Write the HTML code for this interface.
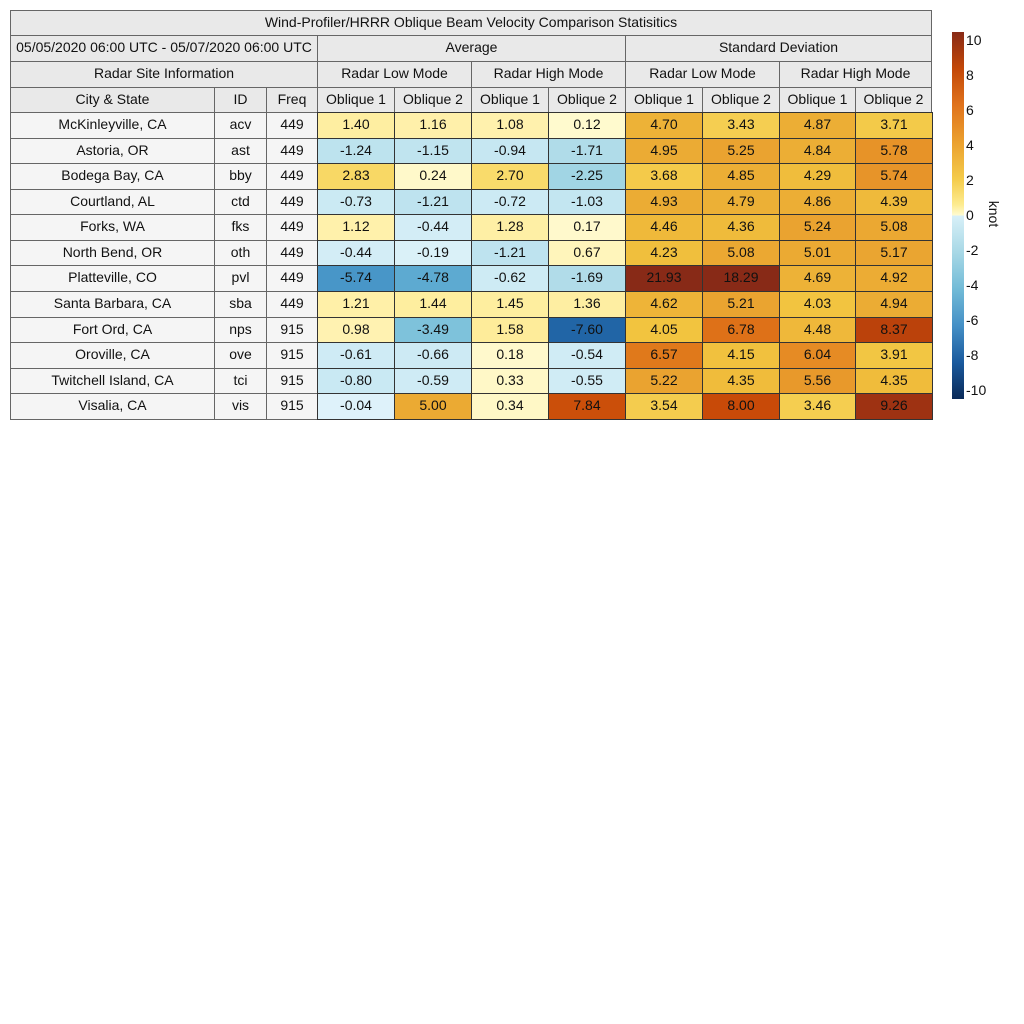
<!DOCTYPE html>
<html><head><meta charset="utf-8">
<style>
body{margin:0;width:1024px;height:1024px;background:#fff;position:relative;overflow:hidden;font-family:"Liberation Sans",sans-serif;font-size:14px;color:#111}
.c{position:absolute;box-sizing:border-box;border:1px solid #666;display:flex;align-items:center;justify-content:center;padding-bottom:3px;white-space:nowrap}
.h{background:#e9e9e9}
.d{background:#f5f5f5}
.v{border-color:#333}
.t{position:absolute;font-size:14px;left:966px}
</style></head><body>
<div id="tb"></div>
<div style="position:absolute;left:952px;top:32px;width:12px;height:367px;background:linear-gradient(to bottom,#882a17 0%,#c34808 10%,#e0731c 20%,#eba02e 30%,#f4cb4a 40%,#fdeb8f 47%,#fffbd2 50%,#d8f0f8 50.01%,#a8d8e6 60%,#72bbd7 70%,#4590c6 80%,#1a5a9e 90%,#0a2a58 100%)"></div>
<div class="t" style="top:32px">10</div>
<div class="t" style="top:67px">8</div>
<div class="t" style="top:102px">6</div>
<div class="t" style="top:137px">4</div>
<div class="t" style="top:172px">2</div>
<div class="t" style="top:207px">0</div>
<div class="t" style="top:242px">-2</div>
<div class="t" style="top:277px">-4</div>
<div class="t" style="top:312px">-6</div>
<div class="t" style="top:347px">-8</div>
<div class="t" style="top:382px">-10</div>
<div style="position:absolute;left:981px;top:206px;transform:rotate(90deg);font-size:14px">knot</div>

<div class="c h" style="left:10px;top:10px;width:922px;height:26px">Wind-Profiler/HRRR Oblique Beam Velocity Comparison Statisitics</div>
<div class="c h" style="left:10px;top:35px;width:308px;height:27px">05/05/2020 06:00 UTC - 05/07/2020 06:00 UTC</div>
<div class="c h" style="left:317px;top:35px;width:309px;height:27px">Average</div>
<div class="c h" style="left:625px;top:35px;width:307px;height:27px">Standard Deviation</div>
<div class="c h" style="left:10px;top:61px;width:308px;height:27px">Radar Site Information</div>
<div class="c h" style="left:317px;top:61px;width:155px;height:27px">Radar Low Mode</div>
<div class="c h" style="left:471px;top:61px;width:155px;height:27px">Radar High Mode</div>
<div class="c h" style="left:625px;top:61px;width:155px;height:27px">Radar Low Mode</div>
<div class="c h" style="left:779px;top:61px;width:153px;height:27px">Radar High Mode</div>
<div class="c h" style="left:10px;top:87px;width:205px;height:26px">City &amp; State</div>
<div class="c h" style="left:214px;top:87px;width:53px;height:26px">ID</div>
<div class="c h" style="left:266px;top:87px;width:52px;height:26px">Freq</div>
<div class="c h" style="left:317px;top:87px;width:78px;height:26px">Oblique 1</div>
<div class="c h" style="left:394px;top:87px;width:78px;height:26px">Oblique 2</div>
<div class="c h" style="left:471px;top:87px;width:78px;height:26px">Oblique 1</div>
<div class="c h" style="left:548px;top:87px;width:78px;height:26px">Oblique 2</div>
<div class="c h" style="left:625px;top:87px;width:78px;height:26px">Oblique 1</div>
<div class="c h" style="left:702px;top:87px;width:78px;height:26px">Oblique 2</div>
<div class="c h" style="left:779px;top:87px;width:77px;height:26px">Oblique 1</div>
<div class="c h" style="left:855px;top:87px;width:77px;height:26px">Oblique 2</div>

<div id="rows">
<div class="r">McKinleyville, CA|acv|449|1.40|1.16|1.08|0.12|4.70|3.43|4.87|3.71</div>
<div class="r">Astoria, OR|ast|449|-1.24|-1.15|-0.94|-1.71|4.95|5.25|4.84|5.78</div>
<div class="r">Bodega Bay, CA|bby|449|2.83|0.24|2.70|-2.25|3.68|4.85|4.29|5.74</div>
<div class="r">Courtland, AL|ctd|449|-0.73|-1.21|-0.72|-1.03|4.93|4.79|4.86|4.39</div>
<div class="r">Forks, WA|fks|449|1.12|-0.44|1.28|0.17|4.46|4.36|5.24|5.08</div>
<div class="r">North Bend, OR|oth|449|-0.44|-0.19|-1.21|0.67|4.23|5.08|5.01|5.17</div>
<div class="r">Platteville, CO|pvl|449|-5.74|-4.78|-0.62|-1.69|21.93|18.29|4.69|4.92</div>
<div class="r">Santa Barbara, CA|sba|449|1.21|1.44|1.45|1.36|4.62|5.21|4.03|4.94</div>
<div class="r">Fort Ord, CA|nps|915|0.98|-3.49|1.58|-7.60|4.05|6.78|4.48|8.37</div>
<div class="r">Oroville, CA|ove|915|-0.61|-0.66|0.18|-0.54|6.57|4.15|6.04|3.91</div>
<div class="r">Twitchell Island, CA|tci|915|-0.80|-0.59|0.33|-0.55|5.22|4.35|5.56|4.35</div>
<div class="r">Visalia, CA|vis|915|-0.04|5.00|0.34|7.84|3.54|8.00|3.46|9.26</div>
</div>
<script>
var xs=[10,214,266,317,394,471,548,625,702,779,855,932];
var pos=[[0,'#fffbd2'],[1,'#fff2b0'],[2,'#fde88a'],[3,'#f7d55e'],[4,'#f2c540'],[5,'#ebaa33'],[6,'#e68c25'],[7,'#dc6a14'],[8,'#c84a08'],[9,'#a63510'],[10,'#882a17']];
var neg=[[0,'#dff3fa'],[1,'#c4e6f1'],[2,'#a8d8e6'],[3,'#8ccadf'],[4,'#70bad7'],[5,'#58a6cf'],[6,'#4390c6'],[7,'#2b75b3'],[8,'#1a5a9e'],[9,'#12427c'],[10,'#0a2a58']];
function h2r(h){return [1,3,5].map(function(i){return parseInt(h.substr(i,2),16)})}
function col(v){var s=v<0?neg:pos;var a=Math.min(Math.abs(v),10);var i=Math.min(Math.floor(a),9);var f=a-i;var c1=h2r(s[i][1]),c2=h2r(s[i+1][1]);return 'rgb('+c1.map(function(c,k){return Math.round(c+(c2[k]-c)*f)}).join(',')+')'}
var rows=document.querySelectorAll('.r'),out='';
rows.forEach(function(r,ri){var p=r.textContent.split('|');var y=Math.round(112+ri*25.58),y2=Math.round(112+(ri+1)*25.58);
p.forEach(function(t,ci){var st='left:'+xs[ci]+'px;top:'+y+'px;width:'+(xs[ci+1]-xs[ci]+1)+'px;height:'+(y2-y+1)+'px;';
if(ci<3)out+='<div class="c d" style="'+st+'">'+t+'</div>';else out+='<div class="c v" style="'+st+'background:'+col(parseFloat(t))+'">'+t+'</div>';});});
document.getElementById('rows').innerHTML=out;
</script>
</body></html>
